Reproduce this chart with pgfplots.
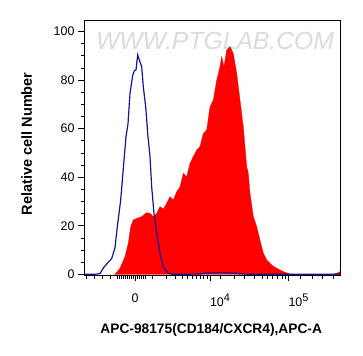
\documentclass[border=0pt]{standalone}
\usepackage{fontspec}
\setmainfont{Liberation Sans}
\usepackage{pgfplots}
\pgfplotsset{compat=1.18}
\definecolor{ctrlblue}{RGB}{20,20,150}
\definecolor{samplered}{RGB}{255,0,0}
\begin{document}
\begin{tikzpicture}
\path[use as bounding box] (0,0) rectangle (363bp,356bp);
\begin{axis}[
  at={(84.5bp,80.7bp)}, anchor=south west,
  scale only axis, width=255.5bp, height=254.6bp,
  xmin=84.5, xmax=340, ymin=-0.41, ymax=104.5,
  axis line style={line width=1bp},
  tick align=outside,
  xtick pos=bottom, ytick pos=left,
  major tick length=6bp, minor tick length=3.5bp,
  tick style={black, line width=0.8bp},
  ytick={0,20,40,60,80,100},
  yticklabels={0,20,40,60,80,100},
  minor ytick={5,10,15,25,30,35,45,50,55,65,70,75,85,90,95},
  xtick={135,210,288.5},
  xticklabels={0,\rlap{10\raisebox{5.5bp}{\fontsize{11}{11}\selectfont 4}},\rlap{10\raisebox{5.5bp}{\fontsize{11}{11}\selectfont 5}}},
  minor xtick={86,94,102.5,110.5,117,119,121,123,125,127,129,131,133,137,139,141,143,145,152,166,175,182,187,192,196,200,203.5,207,220,234,244,254,262,267.5,272.5,277.5,282,285.5,300,312,322,333},
  yticklabel style={font=\fontsize{12.5}{13}\selectfont, anchor=east, xshift=-0.5bp},
  xticklabel style={font=\fontsize{12.5}{13}\selectfont, anchor=north, yshift=-9bp},
  xlabel={APC-98175(CD184/CXCR4),APC-A},
  xlabel style={font=\fontsize{13.8}{14}\selectfont\bfseries, at={(axis description cs:0.496,-0.215)}, anchor=center},
  ylabel={Relative cell Number},
  ylabel style={font=\fontsize{14.6}{15}\selectfont\bfseries, at={(axis description cs:-0.226,0.516)}, anchor=center},
  clip=true,
]
\node[text=black!14, font=\fontsize{24.8}{25}\selectfont\itshape] at (axis cs:215,96.1) {WWW.PTGLAB.COM};
\addplot[fill=samplered, draw=samplered, line width=0.3bp] coordinates {
(113.5,0) (115,0) (120,2.5) (125,7.3) (128.3,12.8) (130.7,19.6) (133.3,22.4) (136.7,23)
(141.7,23.8) (146.7,25.4) (150,25.1) (153.3,23.8) (156.7,25.1) (160,27.9)
(163.3,26.8) (166.7,29.3) (170,32) (173.3,30.6) (176.7,34) (180,36)
(183.3,41.6) (186.7,40.2) (190,45.7) (193.3,48.5) (196.7,51.2) (200,52.6)
(203.3,58) (206.7,59.5) (210,69) (213.3,71.8) (216.7,80) (220,85.6)
(221.7,89.7) (224,85.6) (226.7,92.4) (230,93.8) (233.3,91) (236.7,82.8)
(240,71.8) (243.3,60.8) (246.7,44.4) (248.3,41.6) (250,33.4) (253.3,23.8)
(256.7,19.6) (260,14.1) (263.3,8.7) (266.7,5.9) (271.7,3.8) (276.7,2.5)
(283.3,1.1) (290,0.1) (300,0) (333.3,0) (336.7,0.4) (340,1.1)
} \closedcycle;
\addplot[ctrlblue, line width=1.2bp] coordinates {
(84.5,0) (95,0) (100,0.3) (104,3) (111.7,6.5) (115,11) (117.3,19.6) (120.7,30.6)
(124,47) (126,56.7) (128,62) (130,74.6) (132.7,82) (134.3,83.8) (136,84.2)
(137.7,90.4) (139.3,88.3) (141.7,85.6) (143.3,77.3) (145.7,69) (147.7,58)
(150,48.5) (151.7,36) (154,25) (156.7,17) (160,8.7) (163.3,3.2) (168.3,0.4)
(173.3,0) (200,0.1) (205,0.5) (213.3,0.6) (223.3,0.7) (233.3,0.5) (243.3,0.1)
(253,0) (340,0)
};
\end{axis}
\end{tikzpicture}
\end{document}
